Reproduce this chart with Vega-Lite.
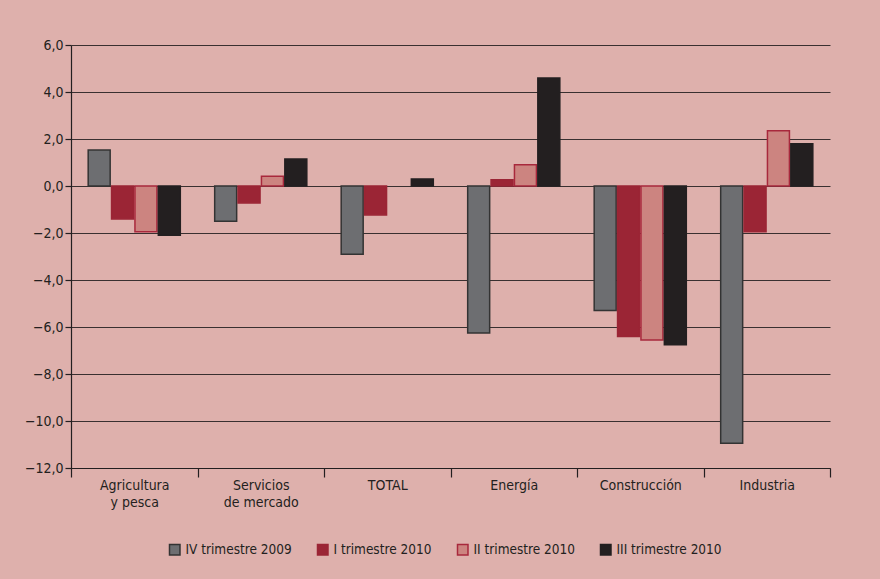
{
  "$schema": "https://vega.github.io/schema/vega-lite/v6.json",
  "width": 759,
  "height": 423,
  "autosize": {"type": "none"},
  "padding": {"left": 71, "top": 45, "right": 50, "bottom": 111},
  "background": "#deb0ac",
  "data": {
    "values": [
      {"sector": "Agricultura y pesca", "serie": "IV trimestre 2009", "valor": 1.53},
      {"sector": "Agricultura y pesca", "serie": "I trimestre 2010", "valor": -1.4},
      {"sector": "Agricultura y pesca", "serie": "II trimestre 2010", "valor": -1.95},
      {"sector": "Agricultura y pesca", "serie": "III trimestre 2010", "valor": -2.1},
      {"sector": "Servicios de mercado", "serie": "IV trimestre 2009", "valor": -1.5},
      {"sector": "Servicios de mercado", "serie": "I trimestre 2010", "valor": -0.72},
      {"sector": "Servicios de mercado", "serie": "II trimestre 2010", "valor": 0.42},
      {"sector": "Servicios de mercado", "serie": "III trimestre 2010", "valor": 1.15},
      {"sector": "TOTAL", "serie": "IV trimestre 2009", "valor": -2.9},
      {"sector": "TOTAL", "serie": "I trimestre 2010", "valor": -1.23},
      {"sector": "TOTAL", "serie": "III trimestre 2010", "valor": 0.3},
      {"sector": "Energía", "serie": "IV trimestre 2009", "valor": -6.25},
      {"sector": "Energía", "serie": "I trimestre 2010", "valor": 0.27},
      {"sector": "Energía", "serie": "II trimestre 2010", "valor": 0.9},
      {"sector": "Energía", "serie": "III trimestre 2010", "valor": 4.6},
      {"sector": "Construcción", "serie": "IV trimestre 2009", "valor": -5.3},
      {"sector": "Construcción", "serie": "I trimestre 2010", "valor": -6.4},
      {"sector": "Construcción", "serie": "II trimestre 2010", "valor": -6.55},
      {"sector": "Construcción", "serie": "III trimestre 2010", "valor": -6.75},
      {"sector": "Industria", "serie": "IV trimestre 2009", "valor": -10.95},
      {"sector": "Industria", "serie": "I trimestre 2010", "valor": -1.95},
      {"sector": "Industria", "serie": "II trimestre 2010", "valor": 2.35},
      {"sector": "Industria", "serie": "III trimestre 2010", "valor": 1.8}
    ]
  },
  "mark": {"type": "bar", "strokeWidth": 1.5},
  "encoding": {
    "x": {
      "field": "sector",
      "type": "nominal",
      "sort": ["Agricultura y pesca", "Servicios de mercado", "TOTAL", "Energía", "Construcción", "Industria"],
      "scale": {"paddingInner": 0, "paddingOuter": 0},
      "axis": {
        "title": null,
        "labelAngle": 0,
        "orient": "bottom",
        "tickBand": "extent",
        "tickSize": 9,
        "tickColor": "#231f20",
        "domainColor": "#231f20",
        "labelPadding": 1,
        "labelFont": "Liberation Sans Narrow, DejaVu Sans Condensed, Liberation Sans, sans-serif",
        "labelFontSize": 14,
        "labelColor": "#231f20",
        "labelLineHeight": 17,
        "labelExpr": "datum.value == 'Agricultura y pesca' ? ['Agricultura', 'y pesca'] : datum.value == 'Servicios de mercado' ? ['Servicios', 'de mercado'] : datum.value"
      }
    },
    "xOffset": {
      "field": "serie",
      "type": "nominal",
      "sort": ["IV trimestre 2009", "I trimestre 2010", "II trimestre 2010", "III trimestre 2010"],
      "scale": {"paddingInner": 0.06, "paddingOuter": 0.735}
    },
    "y": {
      "field": "valor",
      "type": "quantitative",
      "scale": {"domain": [-12, 6], "nice": false, "zero": false},
      "axis": {
        "title": null,
        "values": [-12, -10, -8, -6, -4, -2, 0, 2, 4, 6],
        "labelExpr": "replace(format(datum.value, '.1f'), '.', ',')",
        "grid": true,
        "gridColor": "#3a3030",
        "gridWidth": 1.2,
        "gridOpacity": 1,
        "tickSize": 6,
        "tickColor": "#231f20",
        "domainColor": "#231f20",
        "labelPadding": 2,
        "labelFont": "Liberation Sans Narrow, DejaVu Sans Condensed, Liberation Sans, sans-serif",
        "labelFontSize": 14,
        "labelColor": "#231f20"
      }
    },
    "color": {
      "field": "serie",
      "type": "nominal",
      "sort": ["IV trimestre 2009", "I trimestre 2010", "II trimestre 2010", "III trimestre 2010"],
      "scale": {
        "domain": ["IV trimestre 2009", "I trimestre 2010", "II trimestre 2010", "III trimestre 2010"],
        "range": ["#6d6e71", "#9b2535", "#cc8480", "#231f20"]
      },
      "legend": {
        "title": null,
        "orient": "none",
        "legendX": 97,
        "legendY": 498,
        "direction": "horizontal",
        "symbolType": "square",
        "symbolSize": 110,
        "symbolStrokeWidth": 1.5,
        "labelFont": "Liberation Sans Narrow, DejaVu Sans Condensed, Liberation Sans, sans-serif",
        "labelFontSize": 13.5,
        "labelColor": "#231f20",
        "columnPadding": 22
      }
    },
    "stroke": {
      "field": "serie",
      "type": "nominal",
      "scale": {
        "domain": ["IV trimestre 2009", "I trimestre 2010", "II trimestre 2010", "III trimestre 2010"],
        "range": ["#333333", "#9b2535", "#a8283c", "#231f20"]
      },
      "legend": null
    }
  },
  "config": {
    "view": {"stroke": null},
    "axis": {"domainWidth": 1.2, "tickWidth": 1.2}
  }
}
